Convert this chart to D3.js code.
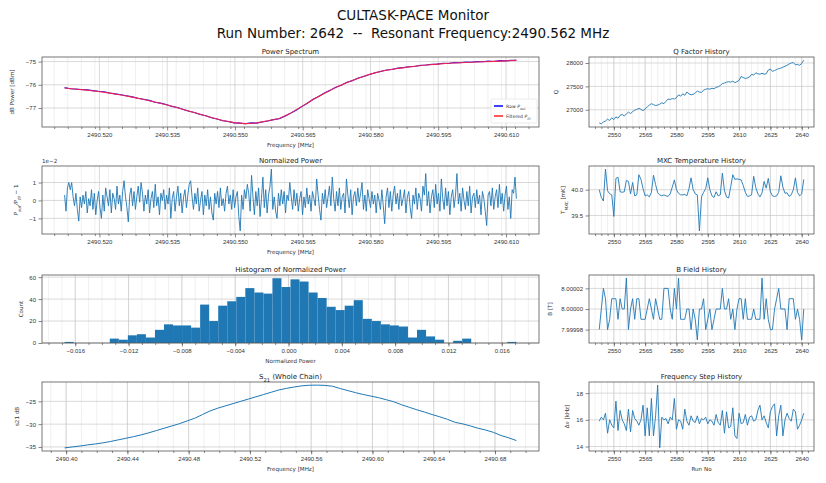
<!DOCTYPE html>
<html>
<head>
<meta charset="utf-8">
<script src="https://cdn.jsdelivr.net/npm/d3@7"></script>
<style>
body { margin:0; background:#fff; }
svg { font-family: "DejaVu Sans", sans-serif; }
.axis text { fill:#333; font-size:6px; }
.axis line { stroke:#555; stroke-width:0.7; }
.axis .domain { display:none; }
.grid-major { stroke:#c8c8c8; stroke-width:0.7; }
.grid-minor { stroke:#e6e6e6; stroke-width:0.6; }
.frame { fill:none; stroke:#555; stroke-width:0.8; }
.ptitle { font-size:7px; fill:#222; }
.alabel { font-size:5.6px; fill:#333; }
</style>
</head>
<body>
<svg id="monitor" width="826" height="483"></svg>
<script>
// ---------- history panels (runs 2543..2641) ----------
var runStart = 2543

var qFactor = [
  26720, 26700, 26740, 26760, 26800, 26770, 26830, 26790, 26850, 26820,
  26880, 26900, 26870, 26910, 26950, 26920, 26960, 26990, 27010, 27030,
  27010, 26980, 27020, 27060, 27100, 27130, 27110, 27090, 27100, 27120,
  27150, 27130, 27180, 27230, 27220, 27240, 27230, 27260, 27320, 27290,
  27340, 27310, 27380, 27340, 27320, 27330, 27360, 27400, 27380, 27370,
  27420, 27440, 27450, 27440, 27460, 27450, 27480, 27490, 27520, 27560,
  27570, 27590, 27600, 27590, 27610, 27580, 27600, 27630, 27710, 27690,
  27670, 27680, 27700, 27760, 27740, 27790, 27770, 27760, 27780, 27760,
  27770, 27850, 27870, 27820, 27840, 27860, 27880, 27890, 27910, 27930,
  27950, 27980, 28000, 28010, 27960, 27970, 27950, 27990, 28060]

var mxcTemp = [
  40.00, 39.85, 39.78, 40.40, 39.98, 39.92, 39.90, 39.48, 40.22, 40.24,
  39.96, 39.95, 39.96, 40.18, 40.16, 39.92, 40.14, 39.88, 39.90, 40.29,
  40.20, 40.02, 39.88, 39.90, 39.86, 39.95, 40.28, 40.10, 39.94, 39.90,
  39.88, 39.90, 39.88, 39.87, 39.92, 40.05, 40.19, 40.00, 39.93, 39.90,
  39.90, 39.91, 39.88, 40.02, 40.23, 40.00, 39.92, 39.90, 39.20, 39.86,
  39.95, 40.02, 40.23, 40.00, 39.88, 39.85, 39.96, 39.88, 39.90, 40.32,
  39.98, 39.86, 39.84, 40.06, 40.29, 40.20, 40.21, 40.20, 40.19, 40.08,
  39.95, 39.87, 39.88, 39.90, 40.26, 40.04, 39.92, 39.86, 39.94, 40.16,
  40.03, 40.22, 39.96, 39.88, 39.87, 39.88, 39.95, 40.27, 40.05, 39.93,
  39.94, 39.87, 39.90, 40.00, 40.23, 39.95, 39.88, 39.92, 40.20]

var bField = [
  7.99998, 8.00000, 8.00002, 8.00001, 7.99998, 7.99999, 8.00001, 8.00001, 8.00001, 7.99999,
  8.00001, 8.00000, 8.00000, 8.00003, 7.99998, 8.00000, 8.00001, 7.99999, 8.00001, 8.00001,
  7.99999, 7.99999, 7.99999, 8.00000, 8.00001, 8.00000, 7.99999, 8.00001, 8.00000, 7.99999,
  7.99999, 8.00002, 8.00002, 8.00002, 8.00000, 7.99999, 8.00002, 8.00000, 8.00003, 7.99999,
  7.99999, 7.99999, 8.00000, 8.00000, 7.99998, 8.00000, 7.99999, 7.99997, 8.00000, 8.00000,
  8.00001, 7.99998, 7.99999, 8.00000, 7.99998, 7.99999, 8.00000, 8.00000, 8.00000, 8.00002,
  8.00000, 8.00000, 8.00001, 7.99999, 8.00000, 7.99998, 8.00000, 8.00001, 8.00001, 7.99999,
  8.00001, 7.99999, 7.99999, 7.99999, 8.00000, 7.99999, 7.99999, 7.99999, 8.00003, 7.99999,
  8.00001, 7.99999, 7.99998, 7.99998, 8.00000, 8.00001, 8.00002, 8.00000, 8.00000, 8.00000,
  7.99998, 8.00001, 8.00001, 8.00001, 7.99999, 8.00000, 7.99999, 7.99997, 8.00000]

var freqStep = [
  15.9, 16.2, 16.0, 16.5, 15.0, 16.0, 15.6, 15.4, 17.4, 15.2,
  16.7, 16.0, 15.7, 15.2, 16.8, 15.1, 16.7, 16.1, 15.9, 15.6,
  16.0, 17.1, 14.8, 16.9, 14.8, 17.6, 14.8, 16.3, 18.6, 13.9,
  16.2, 16.0, 16.1, 15.7, 16.2, 16.0, 17.6, 15.3, 16.0, 15.9,
  15.3, 16.8, 15.9, 15.6, 16.3, 15.9, 15.8, 16.3, 15.7, 16.1,
  16.0, 16.2, 15.7, 16.0, 15.9, 15.6, 16.4, 15.8, 15.6, 16.7,
  15.0, 16.6, 15.4, 15.5, 16.9, 14.8, 14.6, 16.5, 15.7, 15.8,
  16.4, 15.6, 16.2, 16.3, 15.9, 16.0, 16.7, 17.1, 16.0, 16.3,
  15.8, 15.4, 16.6, 17.0, 17.2, 14.8, 16.3, 17.1, 14.8, 16.0,
  16.5, 16.1, 15.9, 16.8, 16.6, 15.3, 15.6, 16.0, 16.5]

// ---------- power spectrum sweep ----------
var psFreqStart = 2490.5123, psFreqEnd = 2490.6123

var rawPower = [
  -76.12, -76.17, -76.18, -76.20, -76.22, -76.25, -76.28, -76.30, -76.35, -76.39,
  -76.43, -76.47, -76.52, -76.58, -76.62, -76.67, -76.75, -76.79, -76.85, -76.93,
  -76.98, -77.06, -77.14, -77.19, -77.28, -77.33, -77.42, -77.47, -77.55, -77.58,
  -77.64, -77.65, -77.68, -77.64, -77.65, -77.60, -77.56, -77.50, -77.46, -77.35,
  -77.23, -77.10, -76.94, -76.80, -76.62, -76.50, -76.35, -76.24, -76.11, -76.02,
  -75.89, -75.82, -75.71, -75.64, -75.56, -75.48, -75.43, -75.36, -75.34, -75.28,
  -75.26, -75.22, -75.21, -75.16, -75.15, -75.12, -75.11, -75.07, -75.08, -75.04,
  -75.05, -75.02, -75.03, -75.00, -75.01, -74.98, -75.00, -74.96, -74.97, -74.95, -74.94]

var filteredPower = [
  -76.14, -76.19, -76.23, -76.29, -76.36, -76.44, -76.53, -76.63, -76.74, -76.86,
  -76.99, -77.13, -77.27, -77.41, -77.54, -77.63, -77.67, -77.64, -77.55, -77.45,
  -77.22, -76.93, -76.63, -76.36, -76.12, -75.90, -75.72, -75.55, -75.42, -75.33,
  -75.26, -75.20, -75.15, -75.11, -75.07, -75.05, -75.03, -75.01, -74.99, -74.97, -74.95]

// P_out / P_fil - 1, in units of 1e-2
var normPower = [
  0.3, -0.6, 0.7, 1.0, 0.6, 1.0, 0.2, -0.3, 0.4, -0.5,
  -1.15, 0.2, -0.4, 0.3, -0.2, 0.5, -0.7, 0.1, -0.3, 0.6,
  -0.5, 0.4, -0.8, 0.0, 0.5, -0.4, -1.0, 0.3, -0.6, 0.7,
  0.2, -0.3, 0.6, -0.7, 0.4, 0.1, -0.5, 0.8, -0.2, 0.3,
  -0.6, 0.5, 1.1, 0.2, -0.4, -1.2, 0.3, 0.7, -0.3, 0.5,
  -0.5, 0.2, 0.8, -0.1, 1.0, 0.4, -0.6, 0.3, -0.2, 0.6,
  -0.7, 0.1, 0.5, -0.4, 0.9, -0.3, 0.2, -0.8, 0.4, 0.0,
  0.6, -0.5, 0.3, -0.2, 0.7, -1.0, 0.1, 0.5, -0.6, 0.2,
  0.8, -0.3, 0.4, -0.7, 0.2, 0.6, -0.4, 0.3, 0.9, 1.1,
  0.2, -0.5, 0.4, -0.2, 0.7, -0.6, 0.0, 0.5, -0.8, 0.3,
  -0.3, 0.6, -0.5, 0.2, -0.7, -1.1, 0.4, -0.2, 0.5, -0.4,
  0.7, -0.3, 0.1, -0.6, 0.4, 0.8, -0.2, 0.3, -0.5, 0.6,
  -0.4, 0.2, 0.5, -0.9, -1.7, 0.3, -0.5, 0.6, 0.1, 0.9,
  0.4, -0.6, 1.4, 0.2, -0.8, 0.5, -0.3, 0.7, -0.9, 0.1,
  1.3, -0.4, 0.6, -0.7, 0.3, 0.8, 1.75, -0.5, 0.2, -0.6,
  -1.0, 0.4, -0.3, 0.6, -0.2, 0.5, -0.7, 0.3, 0.0, 1.0,
  0.2, -0.5, 0.6, -0.3, 0.4, -0.6, 0.1, 0.5, -0.8, 0.2,
  -0.4, 0.7, -0.2, 0.3, -0.6, 0.5, 0.1, -0.3, 1.2, 0.3,
  -0.5, -1.1, 0.4, -0.2, 0.6, -0.4, 0.2, 0.8, -0.3, 1.3,
  0.1, -0.6, 0.5, -0.3, 0.7, -0.5, 0.2, 0.4, -0.7, 1.2,
  0.3, -0.4, 0.6, -0.8, 0.2, 0.5, -0.3, 0.7, -0.1, 0.4,
  1.0, -0.5, 0.3, -0.6, 0.6, 0.1, -0.4, 0.5, -0.2, 0.3,
  -0.7, 0.4, 0.0, -0.5, 0.6, -0.3, -1.3, 0.2, 0.7, -0.4,
  0.5, -0.6, 0.3, 0.8, -0.2, 0.4, -0.5, 0.6, -0.3, 0.1,
  0.6, -0.7, 0.2, 0.5, -0.4, -1.0, 0.3, -0.2, 0.7, -0.5,
  0.4, 0.1, -0.6, 0.8, 0.3, 1.5, -0.3, 0.5, -0.7, 0.2,
  0.6, -0.4, 0.9, -0.2, 0.4, -0.6, 1.2, 0.1, -0.5, 0.7,
  -0.3, 0.5, -0.8, 0.2, 0.6, -0.4, 0.3, 1.5, -0.2, 0.4,
  -0.6, 0.7, 0.0, -0.5, 0.5, -0.3, 0.8, -0.7, 0.2, 0.4,
  -0.4, 0.6, -0.2, 0.3, -0.8, 0.5, 0.1, -0.6, -1.4, 0.3,
  0.5, -0.3, 0.7, -0.5, 0.2, 0.6, -0.4, 0.9, -0.2, 0.4,
  -0.6, 0.3, 0.8, -0.5, 0.2, -1.0, 0.6, 0.4, 1.3, 0.1]

// ---------- histogram of normalized power (50 bins) ----------
var histLow = -0.0168, histHigh = 0.0171
var histCounts = [
  1, 0, 0, 0, 0, 4, 3, 7, 8, 5,
  12, 17, 16, 16, 14, 35, 20, 34, 38, 42,
  50, 46, 45, 59, 51, 58, 56, 46, 41, 33,
  30, 34, 39, 22, 20, 17, 16, 15, 5, 12,
  6, 3, 0, 2, 4, 0, 0, 0, 0, 1]

// ---------- S21 whole chain ----------
var s21FreqStart = 2490.399, s21FreqEnd = 2490.694
var s21 = [
  -35.2, -35.0, -34.8, -34.55, -34.35, -34.1, -33.8, -33.45, -33.1, -32.75,
  -32.35, -31.9, -31.4, -30.9, -30.4, -29.9, -29.3, -28.7, -27.9, -27.1,
  -26.5, -26.0, -25.5, -25.0, -24.5, -24.0, -23.5, -23.0, -22.5, -22.15,
  -21.85, -21.6, -21.47, -21.45, -21.5, -21.7, -22.2, -22.65, -23.1, -23.5,
  -23.85, -24.2, -24.65, -25.1, -25.75, -26.3, -26.85, -27.35, -27.9, -28.4,
  -28.95, -29.6, -29.95, -30.4, -30.9, -31.3, -31.8, -32.5, -33.0, -33.6]

// ---------- tick labels ----------
var psXTicks = [2490.520, 2490.535, 2490.550, 2490.565, 2490.580, 2490.595, 2490.610]
var psYTicks = [-77, -76, -75]
var normYTicks = [-1, 0, 1]
var histXTicks = [-0.016, -0.012, -0.008, -0.004, 0, 0.004, 0.008, 0.012, 0.016]
var histYTicks = [0, 20, 40, 60]
var s21XTicks = [2490.40, 2490.44, 2490.48, 2490.52, 2490.56, 2490.60, 2490.64, 2490.68]
var s21YTicks = [-35, -30, -25]
var runTicks = [2550, 2565, 2580, 2595, 2610, 2625, 2640]
var qTicks = [27000, 27500, 28000]
var mxcTicks = [39.5, 40.0]
var bTicks = [7.99998, 8.00000, 8.00002]
var fsTicks = [14, 16, 18]

var blue = "#1f77b4"

// ---------- layout ----------
var svg = d3.select("#monitor")
var leftCol = {x:42, w:497}
var rightCol = {x:589, w:225}
var rows = [{y:57, h:70}, {y:166, h:68}, {y:275, h:68}, {y:382, h:69}]

// matplotlib style 5% margins
var pad = function(ext, frac)
{
  var m = (ext[1]-ext[0])*frac
  return [ext[0]-m, ext[1]+m]
}

var addText = function(sel, parts)
{
  parts.forEach(function(p){
    var t = sel.append("tspan").text(p[0])
    if (p[1]=="sub") t.attr("baseline-shift","sub").style("font-size","75%")
    if (p[1]=="it") t.style("font-style","italic")
    if (p[1]=="itsub") t.attr("baseline-shift","sub").style("font-size","75%").style("font-style","italic")
  })
}

var drawPanel = function(p)
{
  var col = p.col, row = p.row
  var x = d3.scaleLinear().domain(p.xDomain).range([0, col.w])
  var y = d3.scaleLinear().domain(p.yDomain).range([row.h, 0])

  var g = svg.append("g")
      .attr("transform","translate("+col.x+","+row.y+")")

  var minor = d3.range(Math.ceil(p.xDomain[0]/p.xMinor), Math.floor(p.xDomain[1]/p.xMinor)+1)
      .map(function(k){ return k*p.xMinor })

  g.append("g").selectAll("line").data(minor).enter().append("line")
      .classed("grid-minor", true)
      .attr("x1", function(d){return x(d)}).attr("x2", function(d){return x(d)})
      .attr("y1", 0).attr("y2", row.h)
  g.append("g").selectAll("line").data(p.xTicks).enter().append("line")
      .classed("grid-major", true)
      .attr("x1", function(d){return x(d)}).attr("x2", function(d){return x(d)})
      .attr("y1", 0).attr("y2", row.h)
  g.append("g").selectAll("line").data(p.yTicks).enter().append("line")
      .classed("grid-major", true)
      .attr("y1", function(d){return y(d)}).attr("y2", function(d){return y(d)})
      .attr("x1", 0).attr("x2", col.w)

  g.append("g").classed("axis", true)
      .attr("transform","translate(0,"+row.h+")")
      .call(d3.axisBottom(x).tickValues(minor).tickSize(2).tickFormat(""))
  g.append("g").classed("axis", true)
      .attr("transform","translate(0,"+row.h+")")
      .call(d3.axisBottom(x).tickValues(p.xTicks).tickFormat(p.xFormat).tickSize(3.5).tickPadding(2.5))
  g.append("g").classed("axis", true)
      .call(d3.axisLeft(y).tickValues(p.yTicks).tickFormat(p.yFormat).tickSize(3.5).tickPadding(2.5))

  var clipId = "clip" + p.id
  g.append("clipPath").attr("id", clipId)
    .append("rect").attr("width", col.w).attr("height", row.h)
  var plot = g.append("g").attr("clip-path","url(#"+clipId+")")

  g.append("rect").classed("frame", true).attr("width", col.w).attr("height", row.h)

  var title = g.append("text").classed("ptitle", true)
      .attr("x", col.w/2).attr("y", -3).attr("text-anchor","middle")
  addText(title, p.title)

  if (p.xLabel)
    g.append("text").classed("alabel", true)
      .attr("x", col.w/2).attr("y", row.h+20).attr("text-anchor","middle")
      .text(p.xLabel)

  var yl = g.append("text").classed("alabel", true)
      .attr("text-anchor","middle")
      .attr("transform","translate("+(p.yLabelX-col.x)+","+(row.h/2)+") rotate(-90)")
  addText(yl, p.yLabel)

  return {plot:plot, x:x, y:y, g:g}
}

var drawLine = function(panel, xs, ys, color, width)
{
  var line = d3.line()
      .x(function(d, i){return panel.x(xs(i))})
      .y(function(d){return panel.y(d)})
  panel.plot.append("path").datum(ys)
      .attr("d", line)
      .attr("fill","none")
      .attr("stroke", color)
      .attr("stroke-width", width)
      .attr("stroke-linejoin","round")
}

var indexScale = function(n, a, b)
{
  return d3.scaleLinear().domain([0, n-1]).range([a, b])
}

var runOf = function(i){ return runStart + i }
var runDomain = pad([runStart, runStart + qFactor.length - 1], 0.05)

// ---------- titles ----------
svg.append("text").attr("x", 413).attr("y", 20).attr("text-anchor","middle")
    .style("font-size","13.5px").attr("fill","#111").text("CULTASK-PACE Monitor")
svg.append("text").attr("x", 413).attr("y", 38).attr("text-anchor","middle")
    .style("font-size","13.5px").attr("fill","#111").style("white-space","pre")
    .text("Run Number: 2642  --  Resonant Frequency:2490.562 MHz")

// ---------- power spectrum ----------
var psDomain = pad([psFreqStart, psFreqEnd], 0.05)
var ps = drawPanel({
  id:"ps", col:leftCol, row:rows[0],
  xDomain:psDomain,
  yDomain:pad(d3.extent(rawPower.concat(filteredPower)), 0.05),
  xTicks:psXTicks, xMinor:0.003, xFormat:d3.format(".3f"),
  yTicks:psYTicks, yFormat:d3.format("d"),
  title:[["Power Spectrum"]], xLabel:"Frequency [MHz]",
  yLabel:[["dB Power [dBm]"]], yLabelX:14
})
drawLine(ps, indexScale(rawPower.length, psFreqStart, psFreqEnd), rawPower, "#2020ff", 1.1)
drawLine(ps, indexScale(filteredPower.length, psFreqStart, psFreqEnd), filteredPower, "#ee2050", 1.1)

var legend = ps.g.append("g").attr("transform","translate("+(leftCol.w-48)+","+(rows[0].h-28)+")")
legend.append("rect").attr("width",46).attr("height",24).attr("rx",1.5)
    .attr("fill","#fff").attr("fill-opacity",0.85).attr("stroke","#ddd").attr("stroke-width",0.6)
var legendItems = [
  {color:"#0000ff", parts:[["Raw "],["P","it"],["out","itsub"]]},
  {color:"#ff2020", parts:[["Filtered "],["P","it"],["fil","itsub"]]}]
legendItems.forEach(function(item, i){
  legend.append("line").attr("x1",3).attr("x2",12).attr("y1",7+i*10).attr("y2",7+i*10)
      .attr("stroke",item.color).attr("stroke-width",1.5)
  var t = legend.append("text").attr("x",15).attr("y",9+i*10)
      .style("font-size","4.6px").attr("fill","#333")
  addText(t, item.parts)
})

// ---------- normalized power ----------
var np = drawPanel({
  id:"np", col:leftCol, row:rows[1],
  xDomain:psDomain,
  yDomain:pad(d3.extent(normPower), 0.05),
  xTicks:psXTicks, xMinor:0.003, xFormat:d3.format(".3f"),
  yTicks:normYTicks, yFormat:d3.format("d"),
  title:[["Normalized Power"]], xLabel:"Frequency [MHz]",
  yLabel:[["P","it"],["out","itsub"],["/","it"],["P","it"],["fil","itsub"],[" \u2212 1"]], yLabelX:18
})
drawLine(np, indexScale(normPower.length, psFreqStart, psFreqEnd), normPower, blue, 0.9)
np.g.append("text").attr("x",0).attr("y",-3).style("font-size","5.6px").attr("fill","#333").text("1e\u22122")

// ---------- histogram ----------
var histDomain = pad([histLow, histHigh], 0.05)
var hist = drawPanel({
  id:"hist", col:leftCol, row:rows[2],
  xDomain:histDomain,
  yDomain:[0, d3.max(histCounts)*1.05],
  xTicks:histXTicks, xMinor:0.001, xFormat:d3.format(".3f"),
  yTicks:histYTicks, yFormat:d3.format("d"),
  title:[["Histogram of Normalized Power"]], xLabel:"Normalized Power",
  yLabel:[["Count"]], yLabelX:23
})
var binW = (histHigh - histLow)/histCounts.length
hist.plot.selectAll("rect.bar").data(histCounts).enter().append("rect")
    .classed("bar", true)
    .attr("x", function(d, i){return hist.x(histLow + i*binW)})
    .attr("width", function(d, i){return hist.x(histLow + (i+1)*binW) - hist.x(histLow + i*binW)})
    .attr("y", function(d){return hist.y(d)})
    .attr("height", function(d){return hist.y(0) - hist.y(d)})
    .attr("fill", blue)

// ---------- S21 ----------
var s21Panel = drawPanel({
  id:"s21", col:leftCol, row:rows[3],
  xDomain:pad([s21FreqStart, s21FreqEnd], 0.05),
  yDomain:pad(d3.extent(s21), 0.05),
  xTicks:s21XTicks, xMinor:0.01, xFormat:d3.format(".2f"),
  yTicks:s21YTicks, yFormat:d3.format("d"),
  title:[["S"],["21","sub"],[" (Whole Chain)"]], xLabel:"Frequency [MHz]",
  yLabel:[["s21 dB"]], yLabelX:19
})
drawLine(s21Panel, indexScale(s21.length, s21FreqStart, s21FreqEnd), s21, blue, 1)

// ---------- right column: histories ----------
var historyPanels = [
  {id:"q", data:qFactor, ticks:qTicks, fmt:d3.format("d"), title:[["Q Factor History"]], label:[["Q"]], lx:558},
  {id:"mxc", data:mxcTemp, ticks:mxcTicks, fmt:d3.format(".1f"), title:[["MXC Temperature History"]],
      label:[["T"],["MXC","sub"],[" [mK]"]], lx:565},
  {id:"b", data:bField, ticks:bTicks, fmt:d3.format(".5f"), title:[["B Field History"]], label:[["B [T]"]], lx:552},
  {id:"fs", data:freqStep, ticks:fsTicks, fmt:d3.format("d"), title:[["Frequency Step History"]],
      label:[["\u0394\u03bd [kHz]"]], lx:569, xLabel:"Run No"}
]
historyPanels.forEach(function(h, r){
  var panel = drawPanel({
    id:h.id, col:rightCol, row:rows[r],
    xDomain:runDomain,
    yDomain:pad(d3.extent(h.data), 0.05),
    xTicks:runTicks, xMinor:3, xFormat:d3.format("d"),
    yTicks:h.ticks, yFormat:h.fmt,
    title:h.title, xLabel:h.xLabel,
    yLabel:h.label, yLabelX:h.lx
  })
  drawLine(panel, runOf, h.data, blue, 0.9)
})
</script>
</body>
</html>
